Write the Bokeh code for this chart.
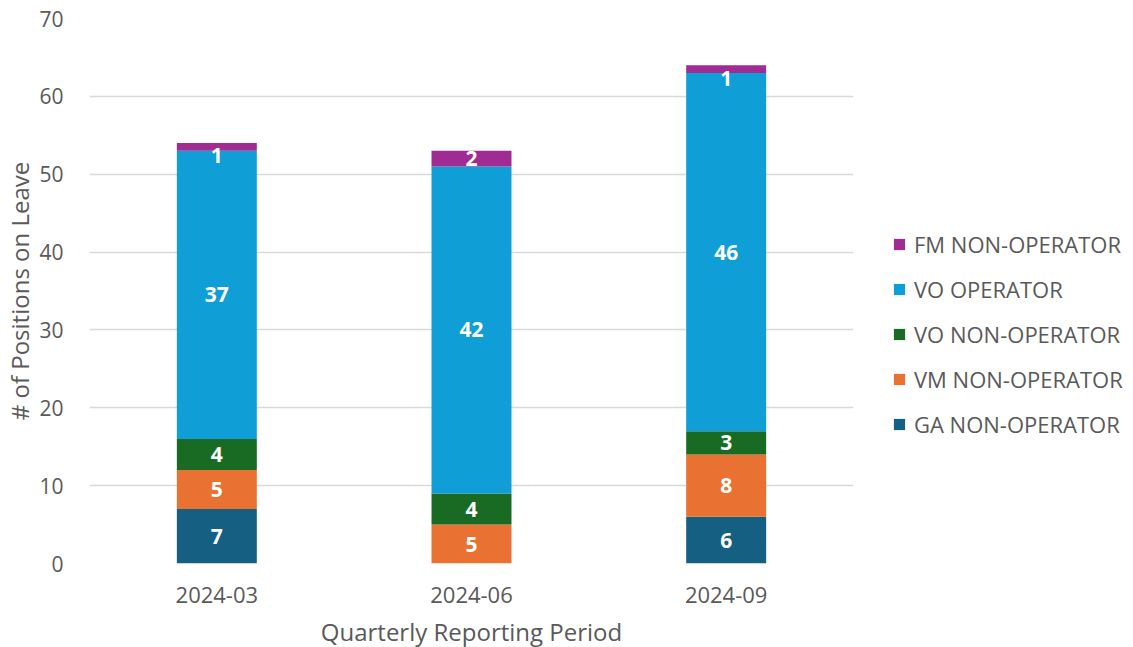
from bokeh.plotting import figure
from bokeh.models import ColumnDataSource, Legend, LegendItem, FactorRange
from bokeh.core.properties import value
from bokeh.embed import file_html
from bokeh.resources import INLINE

periods = ["2024-03", "2024-06", "2024-09"]
series_names = ["GA NON-OPERATOR", "VM NON-OPERATOR", "VO NON-OPERATOR", "VO OPERATOR", "FM NON-OPERATOR"]
ga_non_operator = [7, 0, 6]
vm_non_operator = [5, 5, 8]
vo_non_operator = [4, 4, 3]
vo_operator = [37, 42, 46]
fm_non_operator = [1, 2, 1]
colors = ["#156082", "#E97132", "#196B24", "#0F9ED5", "#A02B93"]
y_ticks = [0, 10, 20, 30, 40, 50, 60, 70]

series = [ga_non_operator, vm_non_operator, vo_non_operator, vo_operator, fm_non_operator]

FONT = "Open Sans"
GREY = "#595959"

p = figure(x_range=FactorRange(*periods, range_padding=0), y_range=(0, 70),
           frame_width=764, frame_height=545, output_backend="svg",
           toolbar_location=None, min_border_left=40, min_border_top=18,
           min_border_right=272, min_border_bottom=68)
p.outline_line_color = None
p.background_fill_color = "white"

renderers = []
bottom = [0] * len(periods)
lab_x, lab_y, lab_t = [], [], []
for vals, col, name in zip(series, colors, series_names):
    top = [b + v for b, v in zip(bottom, vals)]
    src = ColumnDataSource(dict(x=periods, bottom=bottom, top=top))
    r = p.vbar(x="x", bottom="bottom", top="top", width=0.314, source=src,
               fill_color=col, line_color=None)
    renderers.append((name, r))
    for per, b, v in zip(periods, bottom, vals):
        if v > 0:
            lab_x.append(per)
            # thin segments: label kept just under the bar top, as in the source chart
            lab_y.append(b + v / 2 if v >= 2 else b + v - 1.65)
            lab_t.append(str(v))
    bottom = top

lsrc = ColumnDataSource(dict(x=lab_x, y=lab_y, t=lab_t))
p.text(x="x", y="y", text="t", source=lsrc, text_color="white",
       text_font=value(FONT), text_font_style="bold", text_font_size="21px",
       text_align="center", text_baseline="middle")

p.yaxis.ticker = y_ticks
p.ygrid.grid_line_color = "#D9D9D9"
p.ygrid.grid_line_width = 1.5
p.xgrid.grid_line_color = None
for ax in (p.xaxis[0], p.yaxis[0]):
    ax.axis_line_color = None
    ax.major_tick_line_color = None
    ax.minor_tick_line_color = None
    ax.major_label_text_font = FONT
    ax.major_label_text_font_size = "21px"
    ax.major_label_text_color = GREY
    ax.axis_label_text_font = FONT
    ax.axis_label_text_font_size = "24px"
    ax.axis_label_text_color = GREY
    ax.axis_label_text_font_style = "normal"

p.xaxis.major_label_text_font_size = "22px"
p.xaxis.axis_label = "Quarterly Reporting Period"
p.yaxis.axis_label = "# of Positions on Leave"
p.xaxis.major_label_standoff = 17
p.yaxis.major_label_standoff = 20
p.xaxis.axis_label_standoff = 9
p.yaxis.axis_label_standoff = 0

items = [LegendItem(label=n, renderers=[r]) for n, r in reversed(renderers)]
legend = Legend(items=items, location=(39, 124), border_line_color=None,
                background_fill_alpha=0, label_text_font=FONT,
                label_text_font_size="22px", label_text_color=GREY,
                glyph_width=14, glyph_height=14, label_height=22,
                spacing=15, padding=0, margin=0, label_standoff=8)
p.add_layout(legend, "right")

open("out.html", "w").write(file_html(p, INLINE))
